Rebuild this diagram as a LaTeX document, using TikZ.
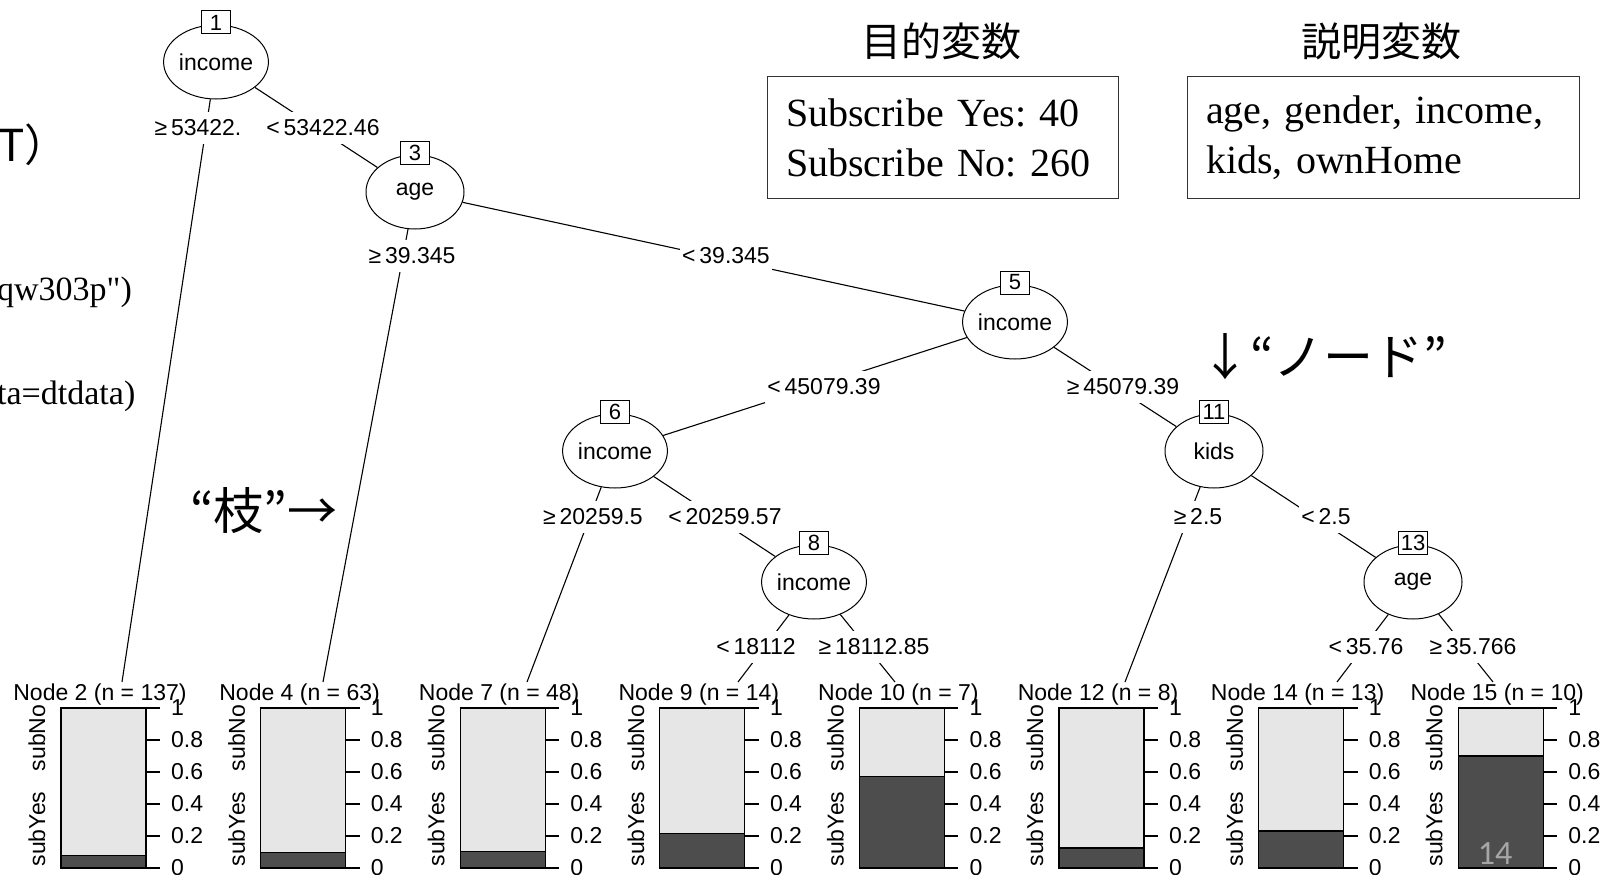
\documentclass[tikz,border=0pt]{standalone}
\usepackage{fontspec}
\setmainfont{Liberation Serif}
\setsansfont{Liberation Sans}
\newfontfamily\jpfont{Noto Sans CJK JP}
\newfontfamily\pagefont{Carlito}
\usetikzlibrary{shapes.geometric,positioning}
\definecolor{barlight}{RGB}{230,230,230}
\definecolor{bardark}{RGB}{77,77,77}
\definecolor{pagegray}{RGB}{166,166,166}
\frenchspacing

\begin{document}
\begin{tikzpicture}[x=1pt,y=-1pt,
  splitstyle/.style={ellipse,draw,line width=1pt,fill=white,minimum width=98pt,minimum height=74pt,inner sep=0pt,font=\sffamily\fontsize{23}{27}\selectfont},
  idstyle/.style={rectangle,draw,line width=1pt,fill=white,minimum width=29pt,minimum height=23pt,inner sep=2pt,font=\sffamily\fontsize{22}{26}\selectfont},
  labstyle/.style={fill=white,inner xsep=2pt,inner ysep=8pt,font=\sffamily\fontsize{23}{27}\selectfont},
  boxstyle/.style={draw=black!80,line width=1pt,align=left,inner xsep=19pt,minimum height=121pt,font=\fontsize{40}{50}\selectfont},
  headstyle/.style={font=\jpfont\fontsize{40}{48}\selectfont},
  notestyle/.style={anchor=west,inner sep=0pt,font=\jpfont\fontsize{50}{58}\selectfont},
  panelstyle/.style={inner sep=0pt,font=\sffamily\fontsize{23}{27}\selectfont}]

 \fill[white] (0,0) rectangle (1620,875);
 \useasboundingbox (0,0) rectangle (1620,875);

 % terminal panels
 \foreach \k/\n/\f [count=\i from 0] in {2/137/0.080,4/63/0.095,7/48/0.104,9/14/0.214,10/7/0.571,12/8/0.125,14/13/0.231,15/10/0.7} {
  \begin{scope}[xshift=199.6*\i]
   \filldraw[fill=barlight,line width=1.2pt] (61,708) rectangle (146,868);
   \filldraw[fill=bardark,line width=1.2pt] (61,868-160*\f) rectangle (146,868);
   \foreach \v in {0,0.2,0.4,0.6,0.8,1} {
    \draw[line width=1.2pt] (146,868-160*\v) -- (160,868-160*\v);
    \node[panelstyle,anchor=west] at (171,868-160*\v) {\v};
   }
   \node[panelstyle] (t\k) at (100,695) {Node \k{} (n = \n)};
   \node[panelstyle,rotate=90] at (37,738) {subNo};
   \node[panelstyle,rotate=90] at (37,829) {subYes};
  \end{scope}
 }

 % inner nodes
 \node[splitstyle] (n1) at (216,62) {income};
 \node[splitstyle] (n3) at (415,192) {age};
 \node[splitstyle] (n5) at (1015,322) {income};
 \node[splitstyle] (n6) at (615,451) {income};
 \node[splitstyle] (n8) at (814,582) {income};
 \node[splitstyle] (n11) at (1214,451) {kids};
 \node[splitstyle] (n13) at (1413,582) {age};
 \foreach \m in {1,3,5,6,8,11,13}
  \node[idstyle,above=-10pt of n\m] (b\m) {\m};

 \coordinate (c2) at (122,682);
 \coordinate (c4) at (323,682);
 \coordinate (c7) at (527,682);
 \coordinate (c9) at (738,682);
 \coordinate (c10) at (895,682);
 \coordinate (c12) at (1125,682);
 \coordinate (c14) at (1337,682);
 \coordinate (c15) at (1493,682);

 \draw[line width=1.1pt] (n1) -- (c2) (n1) -- (n3) (n3) -- (c4) (n3) -- (n5)
       (n5) -- (n6) (n5) -- (n11) (n6) -- (c7) (n6) -- (n8)
       (n8) -- (c9) (n8) -- (c10) (n11) -- (c12) (n11) -- (n13)
       (n13) -- (c14) (n13) -- (c15);

 % split labels
 \node[labstyle] (l2) at (198,128) {≥\,53422.};
 \node[labstyle] (l3) at (323,128) {<\,53422.46};
 \node[labstyle] (l4) at (412,256) {≥\,39.345};
 \node[labstyle] (l5) at (726,256) {<\,39.345};
 \node[labstyle] (l6) at (824,387) {<\,45079.39};
 \node[labstyle] (l11) at (1123,387) {≥\,45079.39};
 \node[labstyle] (l7) at (593,517) {≥\,20259.5};
 \node[labstyle] (l8) at (725,517) {<\,20259.57};
 \node[labstyle] (l12) at (1198,517) {≥\,2.5};
 \node[labstyle] (l13) at (1326,517) {<\,2.5};
 \node[labstyle] (l9) at (756,647) {<\,18112};
 \node[labstyle] (l10) at (874,647) {≥\,18112.85};
 \node[labstyle] (l14) at (1366,647) {<\,35.76};
 \node[labstyle] (l15) at (1473,647) {≥\,35.766};

 % variable boxes
 \node[headstyle] (yhead) at (941,41) {目的変数};
 \node[boxstyle,text width=313pt] (ybox) at (942.5,137.5) {Subscribe Yes: 40\\Subscribe No: 260};
 \node[headstyle] (xhead) at (1381,41) {説明変数};
 \node[boxstyle,text width=354pt] (xbox) at (1383,137.5) {age, gender, income,\\kids, ownHome};

 \node[notestyle] (nodenote) at (1200,357) {↓“ノード”};
 \node[notestyle] (edgenote) at (190,511) {“枝”→};

 \node[anchor=west,inner sep=0pt,font=\jpfont\fontsize{44}{50}\selectfont] (cuttitle) at (-2,145) {T）};
 \node[anchor=west,inner sep=0pt,font=\fontsize{34}{40}\selectfont] (cutcode1) at (-3,292) {qw303p\textquotedbl)};
 \node[anchor=west,inner sep=0pt,font=\fontsize{34}{40}\selectfont] (cutcode2) at (-3,396) {ta=dtdata)};

 \node[text=pagegray,font=\pagefont\fontsize{34}{40}\selectfont] (pagenum) at (1495,854) {14};
\end{tikzpicture}
\end{document}
